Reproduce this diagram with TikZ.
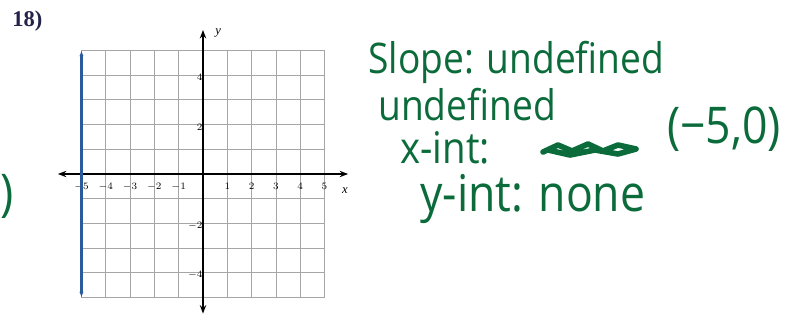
\documentclass[tikz,border=0pt]{standalone}
\usepackage{fontspec}
\setmainfont{Liberation Serif}
\newfontfamily\handfont[FakeStretch=0.88]{Open Sans}
\usetikzlibrary{arrows.meta,positioning}
\definecolor{inkgreen}{HTML}{0B6B3A}
\definecolor{lineblue}{HTML}{2A5C9C}
\definecolor{numnavy}{HTML}{23234A}

\begin{document}
\begin{tikzpicture}[
  x=0.025cm,y=-0.025cm,
  >=Stealth,
  gridline/.style={draw=gray!70,line width=0.6pt},
  axisline/.style={draw=black,line width=1.1pt,{Stealth[length=6pt]}-{Stealth[length=6pt]}},
  ticklabel/.style={font=\fontsize{7}{8}\selectfont,inner sep=1pt},
  axislabel/.style={font=\fontsize{9}{10}\selectfont\itshape,inner sep=0pt},
  handnote/.style={font=\handfont\fontsize{#1}{#1}\selectfont,text=inkgreen,anchor=base west,inner sep=0pt},
  handnote/.default=30,
  graphline/.style={draw=lineblue,line width=2pt,{Latex[length=4pt]}-{Latex[length=4pt]}}
]
\useasboundingbox (0,0) rectangle (800,321);

% ---- problem number ----
\node[font=\fontsize{16}{18}\selectfont\bfseries,text=numnavy,anchor=west,inner sep=0pt] (num) at (12,21) {18)};

% ---- coordinate plane ----
\begin{scope}[shift={(203,174)},x=0.6075cm,y=0.6175cm]
  \foreach \k in {-5,...,5}{
    \draw[gridline] (\k,-5) -- (\k,5);
    \draw[gridline] (-5,\k) -- (5,\k);
  }
  \coordinate (xleft) at (-5.97,0);
  \coordinate (xright) at (5.97,0);
  \coordinate (ybottom) at (0,-5.65);
  \coordinate (ytop) at (0,5.83);
  \draw[axisline] (xleft) -- (xright);
  \draw[axisline] (ybottom) -- (ytop);
  \foreach \k in {-5,-4,-3,-2,-1,1,2,3,4,5}
    \node[ticklabel,anchor=north] (xt\k) at (\k,-0.3) {$\k$};
  \foreach \k in {-4,-2,2,4}
    \node[ticklabel,anchor=east] (yt\k) at (0.05,\k-0.1) {$\k$};
  \node[axislabel] (xlab) at (5.84,-0.69) {x};
  \node[axislabel] (ylab) at (0.62,5.71) {y};
  % graph of x = -5
  \coordinate (ltop) at (-5,5);
  \coordinate (lbot) at (-5,-5);
  \draw[graphline] (ltop) -- (lbot);
\end{scope}

% ---- handwritten work ----
\node[handnote=36,anchor=west] (paren) at (0,196) {)};
\node[handnote=30] (slope) at (368,74) {Slope: undefined};
\node[handnote=30] (undef) at (378,120) {undefined};
\node[handnote=31] (xint) at (400,163) {x-int:};
\draw[inkgreen,line width=4pt,line cap=round,line join=round]
  (543,152) -- (558,145) -- (572,151) -- (588,144) -- (603,151) -- (618,145) -- (636,149)
  -- (618,154) -- (595,150) -- (570,155) -- (548,150);
\node[handnote=36] (xval) at (667,143) {(−5,0)};
\node[handnote=36] (yint) at (420,211) {y-int: none};

\end{tikzpicture}
\end{document}
